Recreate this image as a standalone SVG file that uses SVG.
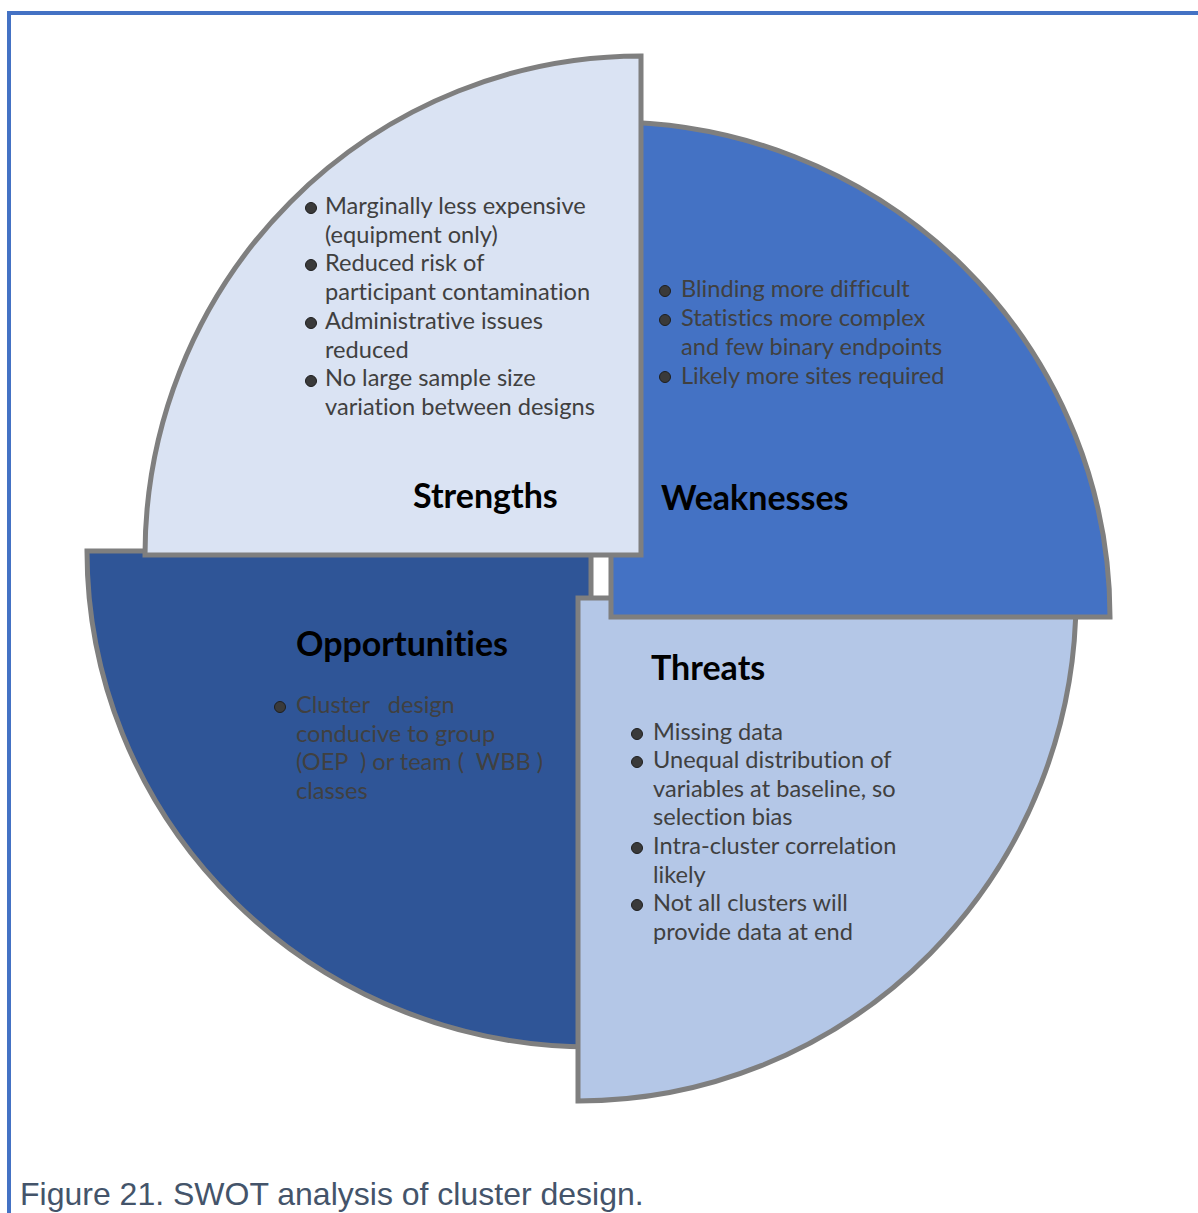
<svg xmlns="http://www.w3.org/2000/svg" width="1198" height="1213" viewBox="0 0 1198 1213">
  <style>
    .quad { stroke: #7f7f7f; stroke-width: 5; stroke-linejoin: miter; }
    .title { font-family: Lato, "Liberation Sans", sans-serif; font-weight: bold; font-size: 34px; fill: #000000; font-variant-ligatures: none; }
    .item { font-family: Lato, "Liberation Sans", sans-serif; font-size: 23.6px; fill: #404040; font-variant-ligatures: none; }
    .dot { fill: #3a3a3a; stroke: #1e1e1e; stroke-width: 1; }
    .caption { font-family: "Liberation Sans", Arial, sans-serif; font-size: 32px; fill: #44546a; }
  </style>
  <rect width="1198" height="1213" fill="#ffffff"/>

  <!-- frame -->
  <path d="M9,1213 V13 H1198" fill="none" stroke="#4472c4" stroke-width="4"/>

  <!-- Opportunities (lower-left quarter) -->
  <g id="opportunities">
    <path class="quad" fill="#2f5597" d="M591,551 L87,551 A504,496 0 0 0 591,1047 Z"/>
    <text class="title" x="296" y="656">Opportunities</text>
    <circle class="dot" cx="280" cy="707" r="5.5"/>
    <text class="item" xml:space="preserve"><tspan x="296" y="713">Cluster   design</tspan><tspan x="296" y="742">conducive to group</tspan><tspan x="296" y="770">(OEP  ) or team (  WBB )</tspan><tspan x="296" y="799">classes</tspan></text>
  </g>

  <!-- Threats (lower-right quarter) -->
  <g id="threats">
    <path class="quad" fill="#b4c7e7" d="M578,598 L1076,598 A498,503 0 0 1 578,1101 Z"/>
    <text class="title" x="651" y="680">Threats</text>
    <circle class="dot" cx="637" cy="734" r="5.5"/>
    <circle class="dot" cx="637" cy="762" r="5.5"/>
    <circle class="dot" cx="637" cy="848" r="5.5"/>
    <circle class="dot" cx="637" cy="905" r="5.5"/>
    <text class="item"><tspan x="653" y="740">Missing data</tspan><tspan x="653" y="768">Unequal distribution of</tspan><tspan x="653" y="797">variables at baseline, so</tspan><tspan x="653" y="825">selection bias</tspan><tspan x="653" y="854">Intra-cluster correlation</tspan><tspan x="653" y="883">likely</tspan><tspan x="653" y="911">Not all clusters will</tspan><tspan x="653" y="940">provide data at end</tspan></text>
  </g>

  <!-- Weaknesses (upper-right quarter) -->
  <g id="weaknesses">
    <path class="quad" fill="#4472c4" d="M611,617 L611,122 A499,495 0 0 1 1110,617 Z"/>
    <text class="title" x="661" y="510">Weaknesses</text>
    <circle class="dot" cx="665" cy="291" r="5.5"/>
    <circle class="dot" cx="665" cy="320" r="5.5"/>
    <circle class="dot" cx="665" cy="377" r="5.5"/>
    <text class="item"><tspan x="681" y="297">Blinding more difficult</tspan><tspan x="681" y="326">Statistics more complex</tspan><tspan x="681" y="355">and few binary endpoints</tspan><tspan x="681" y="384">Likely more sites required</tspan></text>
  </g>

  <!-- Strengths (upper-left quarter) -->
  <g id="strengths">
    <path class="quad" fill="#dae3f3" d="M641,555 L145,555 A496,499 0 0 1 641,56 Z"/>
    <text class="title" x="413" y="508">Strengths</text>
    <circle class="dot" cx="311" cy="208" r="5.5"/>
    <circle class="dot" cx="311" cy="265" r="5.5"/>
    <circle class="dot" cx="311" cy="323" r="5.5"/>
    <circle class="dot" cx="311" cy="381" r="5.5"/>
    <text class="item"><tspan x="325" y="214">Marginally less expensive</tspan><tspan x="325" y="243">(equipment only)</tspan><tspan x="325" y="271">Reduced risk of</tspan><tspan x="325" y="300">participant contamination</tspan><tspan x="325" y="329">Administrative issues</tspan><tspan x="325" y="358">reduced</tspan><tspan x="325" y="386">No large sample size</tspan><tspan x="325" y="415">variation between designs</tspan></text>
  </g>

  <g id="connectors"/>

  <text class="caption" x="20" y="1205">Figure 21. SWOT analysis of cluster design.</text>
</svg>
